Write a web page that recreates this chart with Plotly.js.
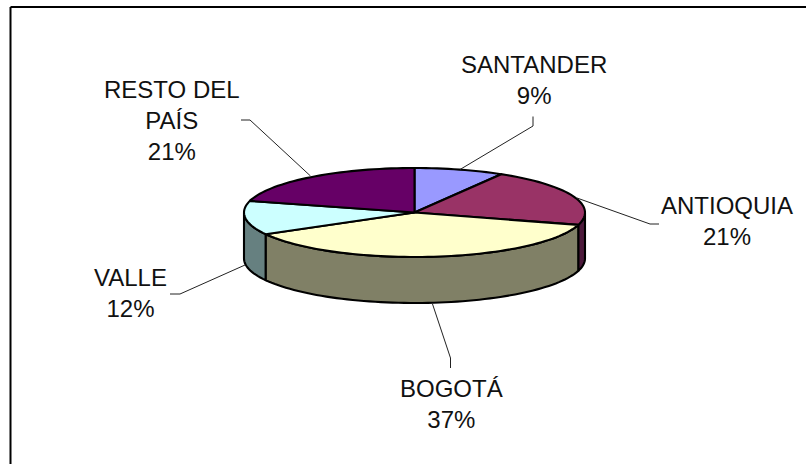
<!DOCTYPE html>
<html>
<head>
<meta charset="utf-8">
<script src="https://cdn.plot.ly/plotly-3.0.1.min.js"></script>
<style>html,body{margin:0;padding:0;background:#fff;overflow:hidden}</style>
</head>
<body>
<div id="chart" style="width:806px;height:464px"></div>
<script>
// Data
const categories = ["SANTANDER", "ANTIOQUIA", "BOGOTÁ", "VALLE", "RESTO DEL<br>PAÍS"];
const shares = [8.5, 21, 37.4, 12.3, 20.8];
const percentLabels = ["9%", "21%", "37%", "12%", "21%"];
const topColors = ["#9999ff", "#993366", "#ffffcc", "#ccffff", "#660066"];
const sideColors = ["#666699", "#4d1a3c", "#808066", "#668080", "#330033"];

// Presentation
const pie = {cx: 414.5, cy: 212.5, rx: 170.5, ry: 44.5, depth: 46};
const labelPos = [[534, 49], [726.5, 190], [451.5, 373], [130, 262], [172, 73.5]];
const leaders = [
  [[533, 116.5], [533, 126], [460, 169.5]],
  [[659, 224], [650, 224], [577, 198]],
  [[450.5, 368], [450.5, 358], [432.5, 304]],
  [[170, 294], [180, 294], [245, 265]],
  [[241, 120], [250, 120], [310.5, 176]]
];

const ex = t => pie.cx + pie.rx * Math.sin(t);
const ey = t => pie.cy - pie.ry * Math.cos(t);
const rad = d => d * Math.PI / 180;
const OUT = {color: "#000", width: 2.1};
const traces = [];
const total = shares.reduce((a, b) => a + b, 0);

function arc(a, b) {
  const n = Math.max(2, Math.ceil(Math.abs(b - a) / 2));
  const out = [];
  for (let i = 0; i <= n; i++) out.push(rad(a + (b - a) * i / n));
  return out;
}
function poly(xs, ys, fill, line) {
  traces.push({type: "scatter", mode: "lines", x: xs, y: ys, fill: "toself", fillcolor: fill,
    line: Object.assign({}, line, {simplify: false}), hoverinfo: "skip", showlegend: false});
}

// side walls, then tops
let acc = 0;
const spans = shares.map(v => { const s = [acc * 360 / total, (acc + v) * 360 / total]; acc += v; return s; });
spans.forEach((s, i) => {
  const a = Math.max(s[0], 90), b = Math.min(s[1], 270);
  if (b <= a) return;
  const ts = arc(a, b);
  const xs = ts.map(ex).concat(ts.slice().reverse().map(ex));
  const ys = ts.map(t => ey(t)).concat(ts.slice().reverse().map(t => ey(t) + pie.depth));
  xs.push(xs[0]); ys.push(ys[0]);
  poly(xs, ys, sideColors[i], OUT);
});
spans.forEach((s, i) => {
  const ts = arc(s[0], s[1]);
  poly([pie.cx].concat(ts.map(ex), [pie.cx]), [pie.cy].concat(ts.map(ey), [pie.cy]), topColors[i], OUT);
});

// leader lines
leaders.forEach(l => traces.push({type: "scatter", mode: "lines",
  x: l.map(p => p[0]), y: l.map(p => p[1]),
  line: {color: "#222", width: 1}, hoverinfo: "skip", showlegend: false}));

const annotations = categories.map((c, i) => ({
  xref: "x", yref: "y", x: labelPos[i][0], y: labelPos[i][1],
  xanchor: "center", yanchor: "top", showarrow: false, align: "center",
  text: c + "<br>" + percentLabels[i],
  font: {family: "Liberation Sans, Arial, sans-serif", size: 24, color: "#111"}
}));

const layout = {
  width: 806, height: 464,
  margin: {l: 0, r: 0, t: 0, b: 0},
  paper_bgcolor: "#fff", plot_bgcolor: "#fff",
  xaxis: {range: [0, 806], visible: false, fixedrange: true},
  yaxis: {range: [464, 0], visible: false, fixedrange: true},
  annotations,
  shapes: [
    {type: "line", xref: "x", yref: "y", x0: 10.5, x1: 806, y0: 7, y1: 7, line: {color: "#000", width: 2}},
    {type: "line", xref: "x", yref: "y", x0: 10.5, x1: 10.5, y0: 7, y1: 464, line: {color: "#000", width: 2}}
  ]
};
Plotly.newPlot("chart", traces, layout, {displayModeBar: false, staticPlot: true});
</script>
</body>
</html>
